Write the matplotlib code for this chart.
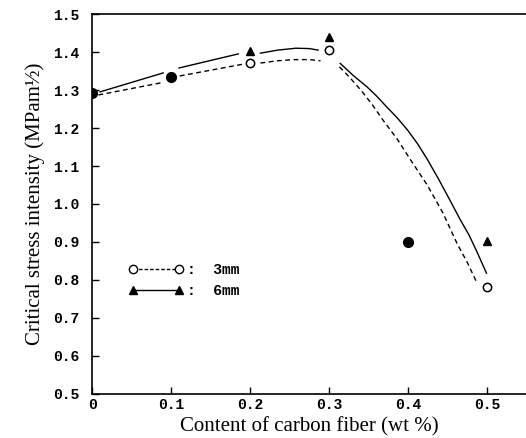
import numpy as np
import matplotlib
matplotlib.use("Agg")
import matplotlib.pyplot as plt

# measured points (wt % carbon fiber, K_IC)
x_3mm = [0.2, 0.3, 0.5]
y_3mm = [1.371, 1.405, 0.782]
x_6mm = [0.2, 0.3, 0.5]
y_6mm = [1.403, 1.439, 0.903]
# where both fiber lengths give the same value (drawn as filled circles)
x_both = [0.0, 0.1, 0.4]
y_both = [1.292, 1.335, 0.900]

# hand-drawn fit curves (nan = break around a marker)
curve_x_3mm = [0.008, 0.09, np.nan, 0.111, 0.191, np.nan, 0.213, 0.235, 0.255, 0.275, 0.289, np.nan,
               0.313, 0.326, 0.34, 0.354, 0.368, 0.386, 0.403, 0.424, 0.444, 0.462, 0.475, 0.487]
curve_y_3mm = [1.287, 1.32, np.nan, 1.337, 1.368, np.nan, 1.371, 1.377, 1.38, 1.38, 1.377, np.nan,
               1.361, 1.333, 1.30, 1.263, 1.221, 1.171, 1.116, 1.05, 0.976, 0.895, 0.845, 0.792]
curve_x_6mm = [0.01, 0.09, np.nan, 0.11, 0.185, np.nan, 0.213, 0.235, 0.258, 0.275, 0.286, np.nan,
               0.314, 0.330, 0.348, 0.36, 0.373, 0.386, 0.399, 0.412, 0.424, 0.438, 0.452,
               0.466, 0.477, 0.487, 0.499]
curve_y_6mm = [1.295, 1.345, np.nan, 1.358, 1.395, np.nan, 1.397, 1.405, 1.41, 1.409, 1.405, np.nan,
               1.37, 1.339, 1.308, 1.284, 1.255, 1.227, 1.195, 1.158, 1.118, 1.067, 1.013,
               0.958, 0.918, 0.874, 0.818]

x_ticks = [0, 0.1, 0.2, 0.3, 0.4, 0.5]
x_tick_labels = ["0", "0.1", "0.2", "0.3", "0.4", "0.5"]
y_ticks = [0.5, 0.6, 0.7, 0.8, 0.9, 1.0, 1.1, 1.2, 1.3, 1.4, 1.5]

serif = "Liberation Serif"
mono = "Liberation Mono"

fig = plt.figure(figsize=(5.26, 4.38), dpi=100)
ax = fig.add_axes([0.175, 0.1005, 0.825, 0.8675])

ax.plot(curve_x_3mm, curve_y_3mm, color="black", lw=1.0, dashes=(3.5, 2.5))
ax.plot(curve_x_6mm, curve_y_6mm, color="black", lw=1.0)

ax.plot(x_3mm, y_3mm, "o", ms=6, mfc="white", mec="black", mew=1.1, ls="none")
ax.plot(x_6mm, y_6mm, "^", ms=6, color="black", ls="none")
ax.plot(x_both, y_both, "o", ms=7, color="black", ls="none")

# legend with a marker at each end of the line
h3, = ax.plot([], [], marker="o", ms=6, mfc="white", mec="black", mew=1.0,
              ls=(0, (2.5, 1.5)), color="black", lw=1.0)
h6, = ax.plot([], [], marker="^", ms=6, color="black", ls="-", lw=1.0)
ax.legend([h3, h6], [":  3mm", ":  6mm"], numpoints=2, frameon=False,
          loc="upper left", bbox_to_anchor=(0.055, 0.378), handlelength=3.7,
          handletextpad=0.3, labelspacing=0.45,
          prop={"family": mono, "weight": "bold", "size": 10.5})

ax.set_xlim(0, 0.549)
ax.set_ylim(0.5, 1.5)
ax.set_xticks(x_ticks)
ax.set_xticklabels(x_tick_labels)
ax.set_yticks(y_ticks)
ax.set_yticklabels([f"{v:.1f}" for v in y_ticks])
ax.tick_params(direction="in", length=5, width=1)
ax.tick_params(axis="x", pad=3)
ax.tick_params(axis="y", pad=9)
for lab in ax.get_xticklabels() + ax.get_yticklabels():
    lab.set_fontfamily(mono)
    lab.set_fontweight("bold")
    lab.set_fontsize(10.5)

ax.spines["right"].set_visible(False)
for s in ["left", "bottom", "top"]:
    ax.spines[s].set_linewidth(1.2)

ax.set_xlabel("Content of carbon fiber (wt %)", family=serif, fontsize=15, labelpad=3.5)
ax.set_ylabel("Critical stress intensity (MPam½)", family=serif, fontsize=15,
              labelpad=6)

fig.savefig("out.png", dpi=100)
